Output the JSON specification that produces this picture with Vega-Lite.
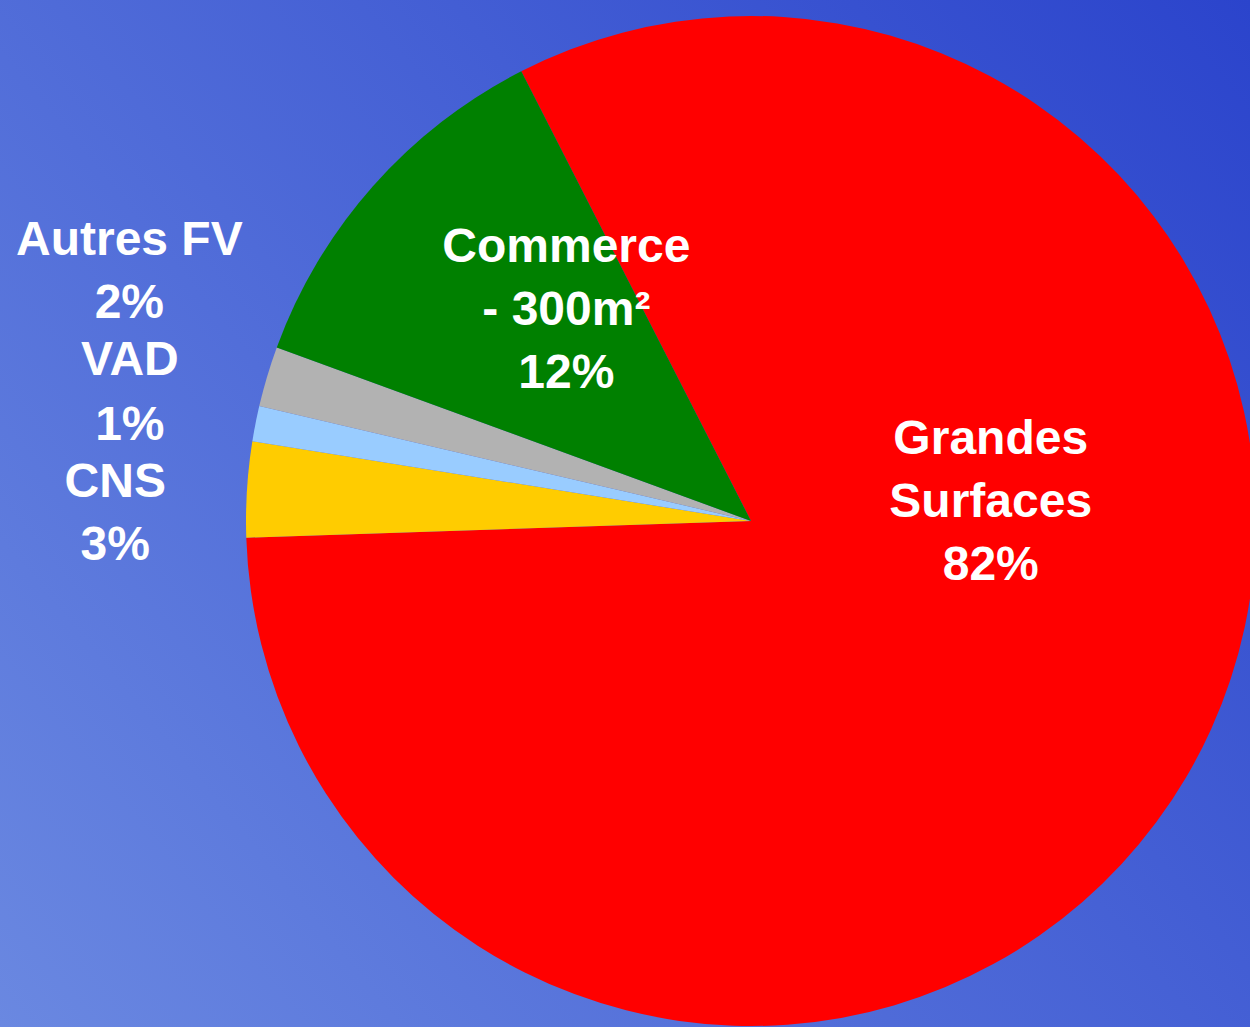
{
  "$schema": "https://vega.github.io/schema/vega-lite/v6.json",
  "width": 998,
  "height": 1012,
  "autosize": {"type": "none"},
  "padding": {"left": 252, "top": 15, "right": 0, "bottom": 0},
  "background": "#4d68d7",
  "config": {"view": {"stroke": null}},
  "data": {
    "values": [
      {"category": "Grandes Surfaces", "value": 82.0, "rank": 1, "label": "Grandes\nSurfaces\n82%"},
      {"category": "CNS", "value": 3.05, "rank": 2, "label": "CNS\n3%"},
      {"category": "VAD", "value": 1.13, "rank": 3, "label": "VAD\n1%"},
      {"category": "Autres FV", "value": 1.93, "rank": 4, "label": "Autres FV\n2%"},
      {"category": "Commerce - 300m²", "value": 11.9, "rank": 5, "label": "Commerce\n- 300m²\n12%"}
    ]
  },
  "layer": [
    {
      "data": {"values": [{"bg": 1}]},
      "mark": {
        "type": "arc",
        "radius": 1500,
        "theta": 0,
        "theta2": 6.2832,
        "fill": {
          "gradient": "linear",
          "x1": 0.6663, "y1": 0.3263, "x2": 0.2497, "y2": 0.6687,
          "stops": [
            {"offset": 0, "color": "#2b44cc"},
            {"offset": 1, "color": "#6a88e1"}
          ]
        }
      }
    },
    {
      "mark": {"type": "arc", "radius": 505},
      "encoding": {
        "theta": {"field": "value", "type": "quantitative", "stack": true, "scale": {"range": [-0.4723, 5.8109]}},
        "order": {"field": "rank", "type": "quantitative"},
        "color": {
          "field": "category",
          "type": "nominal",
          "scale": {
            "domain": ["Grandes Surfaces", "CNS", "VAD", "Autres FV", "Commerce - 300m²"],
            "range": ["#ff0000", "#ffcc00", "#99ccff", "#b2b2b2", "#008000"]
          },
          "legend": null
        }
      }
    },
    {
      "mark": {"type": "text", "radius": 240, "dx": 33, "dy": -203, "font": "Liberation Sans", "fontWeight": "bold", "fontSize": 48, "lineHeight": 63, "lineBreak": "\n", "fill": "white", "align": "center", "baseline": "middle"},
      "encoding": {
        "theta": {"field": "value", "type": "quantitative", "stack": true},
        "order": {"field": "rank", "type": "quantitative"},
        "text": {"condition": {"test": "datum.category === 'Grandes Surfaces'", "field": "label"}, "value": ""}
      }
    },
    {
      "mark": {"type": "text", "radius": 280, "dx": 25, "dy": -87, "font": "Liberation Sans", "fontWeight": "bold", "fontSize": 48, "lineHeight": 63, "lineBreak": "\n", "fill": "white", "align": "center", "baseline": "middle"},
      "encoding": {
        "theta": {"field": "value", "type": "quantitative", "stack": true},
        "order": {"field": "rank", "type": "quantitative"},
        "text": {"condition": {"test": "datum.category === 'Commerce - 300m²'", "field": "label"}, "value": ""}
      }
    },
    {
      "mark": {"type": "text", "radius": 630, "dx": -18, "dy": -100, "font": "Liberation Sans", "fontWeight": "bold", "fontSize": 48, "lineHeight": 63, "lineBreak": "\n", "fill": "white", "align": "center", "baseline": "middle"},
      "encoding": {
        "theta": {"field": "value", "type": "quantitative", "stack": true},
        "order": {"field": "rank", "type": "quantitative"},
        "text": {"condition": {"test": "datum.category === 'Autres FV'", "field": "label"}, "value": ""}
      }
    },
    {
      "mark": {"type": "text", "radius": 630, "dx": -3, "dy": -38, "font": "Liberation Sans", "fontWeight": "bold", "fontSize": 48, "lineHeight": 65, "lineBreak": "\n", "fill": "white", "align": "center", "baseline": "middle"},
      "encoding": {
        "theta": {"field": "value", "type": "quantitative", "stack": true},
        "order": {"field": "rank", "type": "quantitative"},
        "text": {"condition": {"test": "datum.category === 'VAD'", "field": "label"}, "value": ""}
      }
    },
    {
      "mark": {"type": "text", "radius": 630, "dx": -7, "dy": 2, "font": "Liberation Sans", "fontWeight": "bold", "fontSize": 48, "lineHeight": 63, "lineBreak": "\n", "fill": "white", "align": "center", "baseline": "middle"},
      "encoding": {
        "theta": {"field": "value", "type": "quantitative", "stack": true},
        "order": {"field": "rank", "type": "quantitative"},
        "text": {"condition": {"test": "datum.category === 'CNS'", "field": "label"}, "value": ""}
      }
    }
  ]
}
